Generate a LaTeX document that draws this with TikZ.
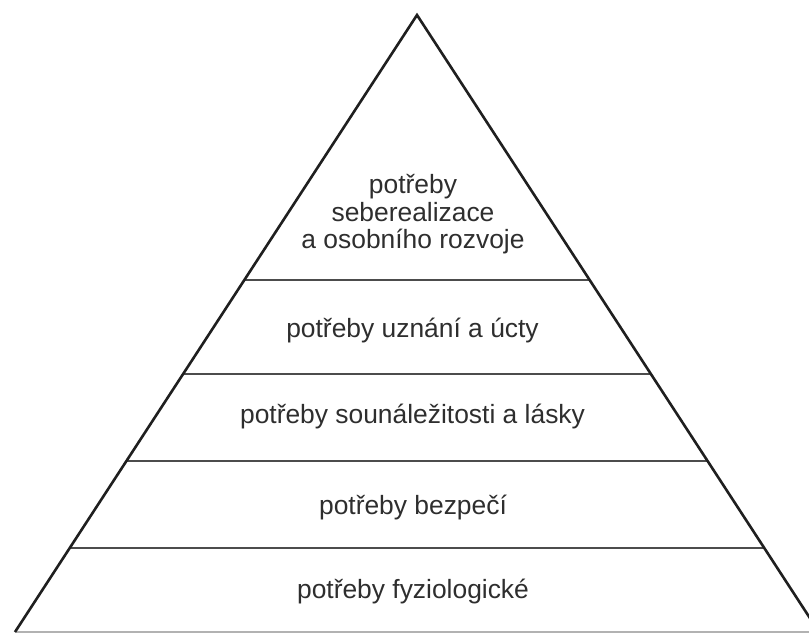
\documentclass[tikz,border=0pt]{standalone}
\usepackage{fontspec}
\setmainfont{Liberation Sans}
\begin{document}
\begin{tikzpicture}[x=1pt,y=-1pt,
  side/.style={line width=2.6pt,draw=black!88,line join=miter},
  tier/.style={line width=2.2pt,draw=black!70},
  label/.style={anchor=base,inner sep=0pt,text=black!82,font=\fontsize{26.4}{28}\selectfont}]
\useasboundingbox (0,0) rectangle (809,633);
\clip (0,0) rectangle (809,633);
\coordinate (apex) at (417,15);
\coordinate (bl) at (15,632);
\coordinate (br) at (819,632);
\coordinate (l1) at (244.5,280); \coordinate (r1) at (589.5,280);
\coordinate (l2) at (183.3,374); \coordinate (r2) at (650.7,374);
\coordinate (l3) at (126.7,461); \coordinate (r3) at (707.3,461);
\coordinate (l4) at (70,548);    \coordinate (r4) at (764,548);
\draw[line width=1.8pt,draw=black!30] (bl) -- (br);
\draw[tier] (l1) -- (r1);
\draw[tier] (l2) -- (r2);
\draw[tier] (l3) -- (r3);
\draw[tier] (l4) -- (r4);
\draw[side] (bl) -- (apex) -- (br);
\node[label] (t1a) at (413,193) {potřeby};
\node[label] (t1b) at (413,221) {seberealizace};
\node[label] (t1c) at (413,248) {a osobního rozvoje};
\node[label] (t2) at (412.5,337) {potřeby uznání a úcty};
\node[label] (t3) at (412.5,423) {potřeby sounáležitosti a lásky};
\node[label] (t4) at (413,514) {potřeby bezpečí};
\node[label] (t5) at (413,598) {potřeby fyziologické};
\end{tikzpicture}
\end{document}
